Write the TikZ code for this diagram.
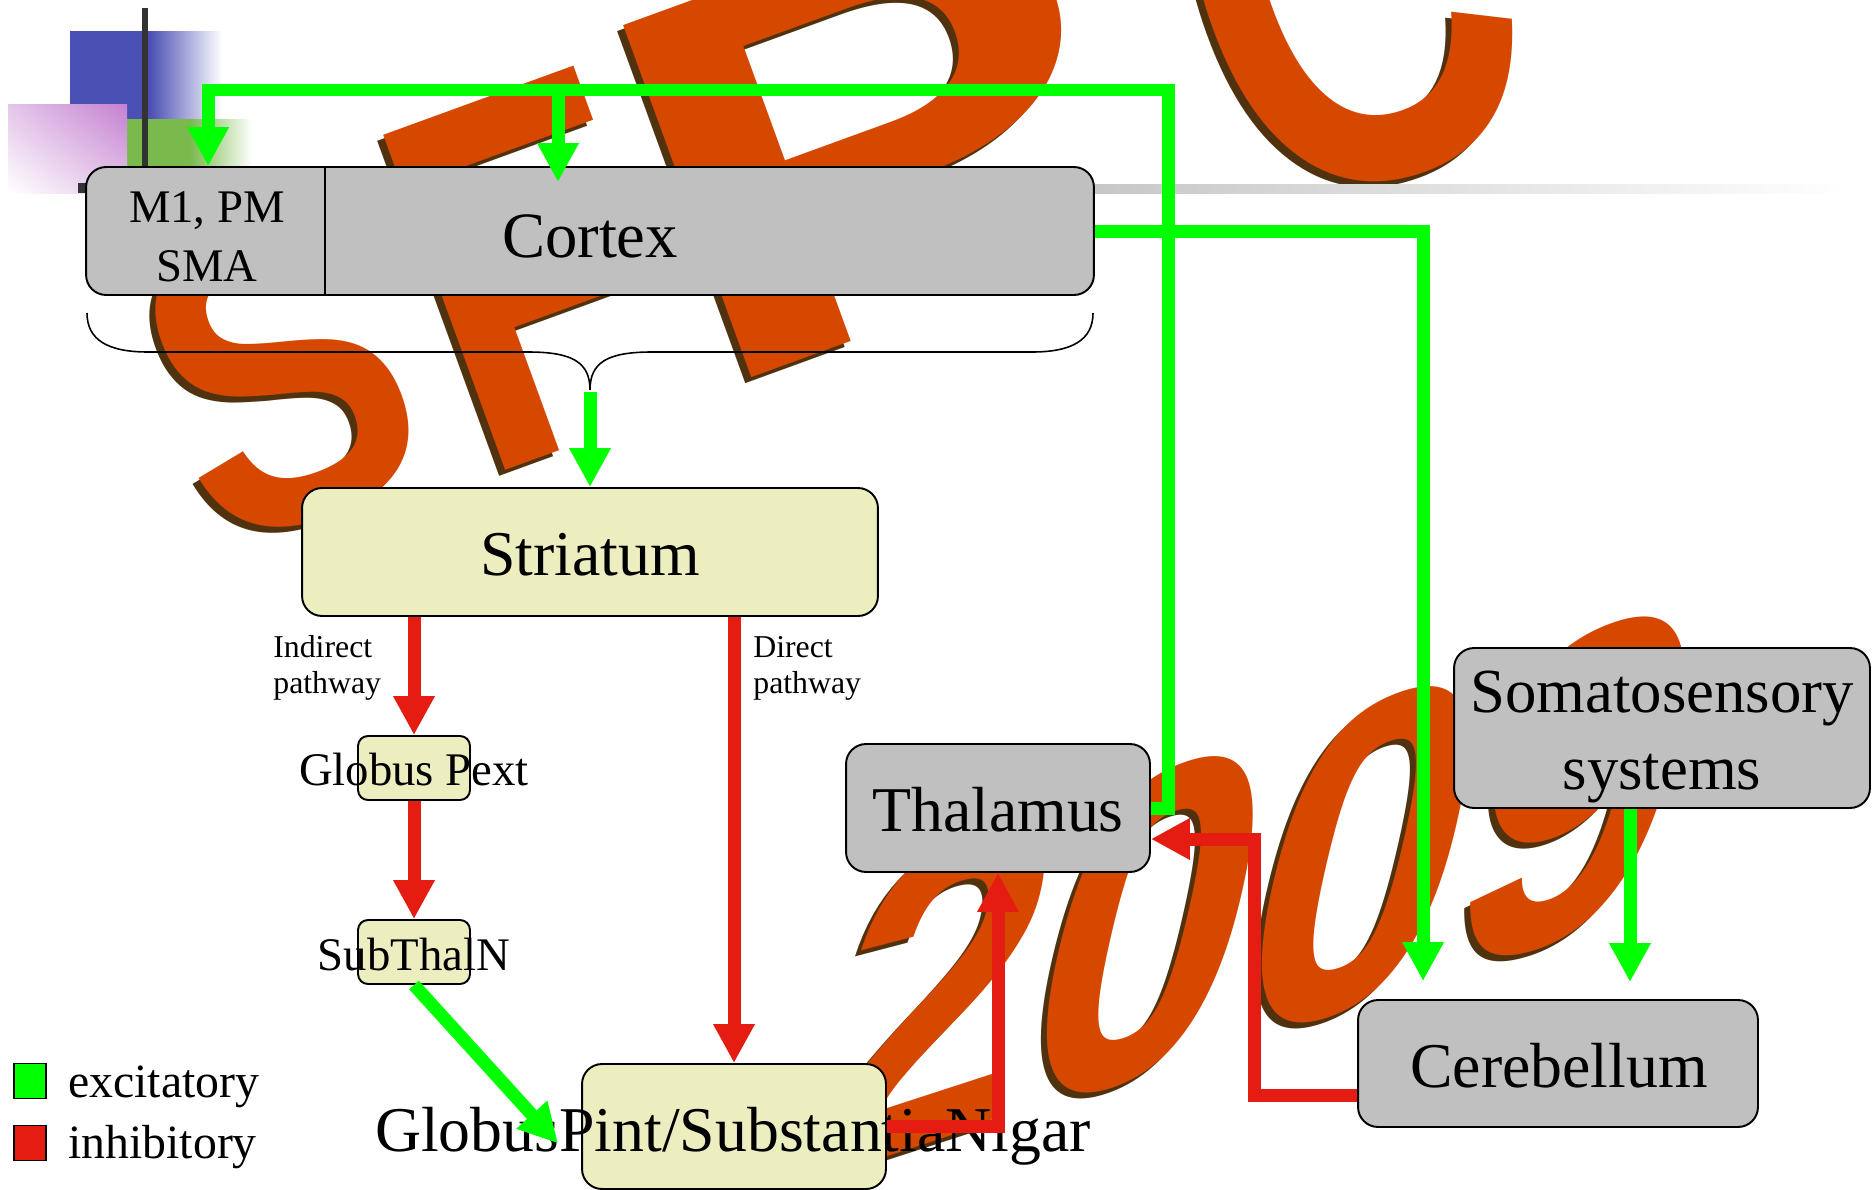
\documentclass[tikz,border=0pt]{standalone}
\usepackage{fontspec}
\setmainfont{Liberation Serif}
\newfontfamily\wmfont{Liberation Sans}
\usetikzlibrary{arrows.meta,calc,shadings}
\definecolor{excg}{RGB}{0,255,0}
\definecolor{inhr}{RGB}{228,28,18}
\definecolor{boxgray}{RGB}{192,192,192}
\definecolor{boxyel}{RGB}{237,238,192}
\definecolor{wmor}{RGB}{214,72,0}
\definecolor{wmdark}{RGB}{80,50,15}
\definecolor{tblue}{RGB}{75,80,180}
\definecolor{tgreen}{RGB}{122,186,76}
\definecolor{tpurple}{RGB}{196,128,208}
\newcommand\fsbig{\fontsize{36.3pt}{43.6pt}\selectfont}
\newcommand\fscortex{\fontsize{36.8pt}{44pt}\selectfont}
\newcommand\fsmid{\fontsize{26.6pt}{33.4pt}\selectfont}
\newcommand\fsleg{\fontsize{27.2pt}{33.4pt}\selectfont}
\newcommand\fssom{\fontsize{35.7pt}{43.7pt}\selectfont}
\newcommand\fssmall{\fontsize{18.1pt}{20.7pt}\selectfont}
\newcommand\wml[7]{%
  \node[wm, text=wmdark, rotate=#6, xscale=#5] (#1s) at ($(#2,#3)+(-6,6)$) {\fontsize{#4pt}{#4pt}\selectfont #7};
  \node[wm, rotate=#6, xscale=#5] (#1) at (#2,#3) {\fontsize{#4pt}{#4pt}\selectfont #7};}
\begin{document}
\begin{tikzpicture}[x=0.02cm,y=-0.02cm,
  wm/.style={font=\wmfont\bfseries, inner sep=0pt, anchor=base west, text=wmor},
  box/.style={draw=black, line width=1.1pt, rounded corners=0.4cm, inner sep=0pt},
  graybox/.style={box, fill=boxgray},
  yelbox/.style={box, fill=boxyel},
  smallbox/.style={yelbox, rounded corners=0.2cm},
  lbl/.style={inner sep=0pt, anchor=base},
  exc/.style={draw=excg, line width=0.26cm},
  inh/.style={draw=inhr, line width=0.26cm},
  tip/.style={-{Triangle[length=0.78cm,width=0.78cm]}},
  legbox/.style={draw=black, line width=1.1pt, minimum width=0.64cm, minimum height=0.7cm, inner sep=0pt}]
\path[use as bounding box] (0,0) rectangle (1874,1190);

% watermark
\wml{wmS}{215}{555}{245}{0.85}{20}{S}
\wml{wmF}{480}{480}{295}{0.77}{20}{F}
\wml{wmP}{705}{395}{310}{1.35}{20}{P}
\wml{wmC}{1265}{225}{330}{0.75}{20}{C}
\node[wm, text=wmdark, rotate=18, xslant=0.6] (wm2s) at (786,1194) {\fontsize{231pt}{231pt}\selectfont 2009};
\node[wm, rotate=18, xslant=0.6] (wm2) at (792,1188) {\fontsize{231pt}{231pt}\selectfont 2009};

% slide template
\fill[tblue] (70,31) rectangle (150,119);
\shade[left color=tblue, right color=white] (150,31) rectangle (222,119);
\fill[tgreen] (127,119) rectangle (190,167);
\shade[left color=tgreen, right color=white] (190,119) rectangle (252,167);
\shade[upper right=tpurple, lower left=white, upper left=tpurple!45!white, lower right=tpurple!45!white] (8,104) rectangle (127,193);
\fill[black!80] (142,8) rectangle (148,167);
\fill[black!80] (78,183) rectangle (86,193);
\shade[left color=black!22, right color=white] (1094,184) rectangle (1850,193);

% boxes
\node[graybox, minimum width=20.16cm, minimum height=2.56cm] (cortex) at (590,231) {};
\draw[line width=1.1pt] ($(cortex.north west)+(240,0)$) -- ($(cortex.south west)+(240,0)$);
\node[inner sep=0pt, align=center, font=\fsmid] (m1) at (207,237) {M1, PM\\SMA};
\node[lbl, font=\fscortex] (cortext) at (590,257) {Cortex};

\node[yelbox, minimum width=11.52cm, minimum height=2.56cm] (striat) at (590,552) {};
\node[lbl, font=\fsbig] (striatt) at (590,575) {Striatum};

\node[smallbox, minimum width=2.24cm, minimum height=1.28cm] (gpe) at (414,768) {};
\node[lbl, font=\fsmid] (gpet) at (414,785) {Globus Pext};

\node[smallbox, minimum width=2.24cm, minimum height=1.28cm] (stn) at (414,952) {};
\node[lbl, font=\fsmid] (stnt) at (414,970) {SubThalN};

\node[yelbox, minimum width=6.08cm, minimum height=2.5cm] (gpi) at (734,1126.5) {};
\node[lbl, font=\fsbig] (gpit) at (733,1151) {GlobusPint/SubstantiaNigar};

\node[graybox, minimum width=6.08cm, minimum height=2.56cm] (thal) at (998,808) {};
\node[lbl, font=\fsbig] (thalt) at (998,831) {Thalamus};

\node[graybox, minimum width=8.32cm, minimum height=3.2cm] (somato) at (1662,728) {};
\node[inner sep=0pt, align=center, font=\fssom] (somatot) at (1662,737) {Somatosensory\\systems};

\node[graybox, minimum width=8cm, minimum height=2.54cm] (cereb) at (1558,1063.5) {};
\node[lbl, font=\fsbig] (cerebt) at (1559,1087) {Cerebellum};

% pathway labels
\node[inner sep=0pt, anchor=north west, align=left, font=\fssmall] (indl) at (273,635) {Indirect\\pathway};
\node[inner sep=0pt, anchor=north west, align=left, font=\fssmall] (dirl) at (753,636) {Direct\\pathway};

% legend
\node[legbox, fill=excg] (legexc) at (30,1081) {};
\node[legbox, fill=inhr] (leginh) at (30,1143) {};
\node[lbl, anchor=base west, font=\fsleg] (legexct) at (68,1097) {excitatory};
\node[lbl, anchor=base west, font=\fsleg] (leginht) at (68,1158) {inhibitory};

% brace
\coordinate (bt) at (590,390);
\draw[line width=0.9pt] (87,313) .. controls (87,340) and (108,352) .. (148,352) -- (528,352)
  .. controls (572,352) and (590,362) .. (bt)
  .. controls (590,362) and (608,352) .. (652,352) -- (1032,352)
  .. controls (1072,352) and (1093,340) .. (1093,313);

% excitatory connectors
\coordinate (topright) at (1168,90);
\coordinate (cxsplit) at (558,90);
\draw[exc, tip] (thal.east) -| (topright) -| ($(cortex.north west)+(123,0)$);
\draw[exc, tip] (cxsplit) -- ($(cortex.north)+(-32,16)$);
\draw[exc, tip] (cortex.east) -| ($(cereb.north west)+(66,-18)$);
\draw[exc, tip] ($(somato.south)+(-32,0)$) -- ($(cereb.north)+(72,-17)$);
\draw[exc, tip] ($(bt)+(0,2)$) -- (striat.north);
\draw[exc, tip] (stn.south) -- ($(gpi.west)+(-23,17)$);

% inhibitory connectors
\draw[inh, tip] (gpe.north |- striat.south) -- (gpe.north);
\draw[inh, tip] (gpe.south) -- (stn.north);
\draw[inh, tip] (gpi.north |- striat.south) -- (gpi.north);
\draw[inh, tip] (gpi.east) -| (thal.south);
\draw[inh, tip] ($(cereb.west)+(0,31.5)$) -| ($(thal.east)+(104,31)$) -- ($(thal.east)+(0,31)$);
\end{tikzpicture}
\end{document}
